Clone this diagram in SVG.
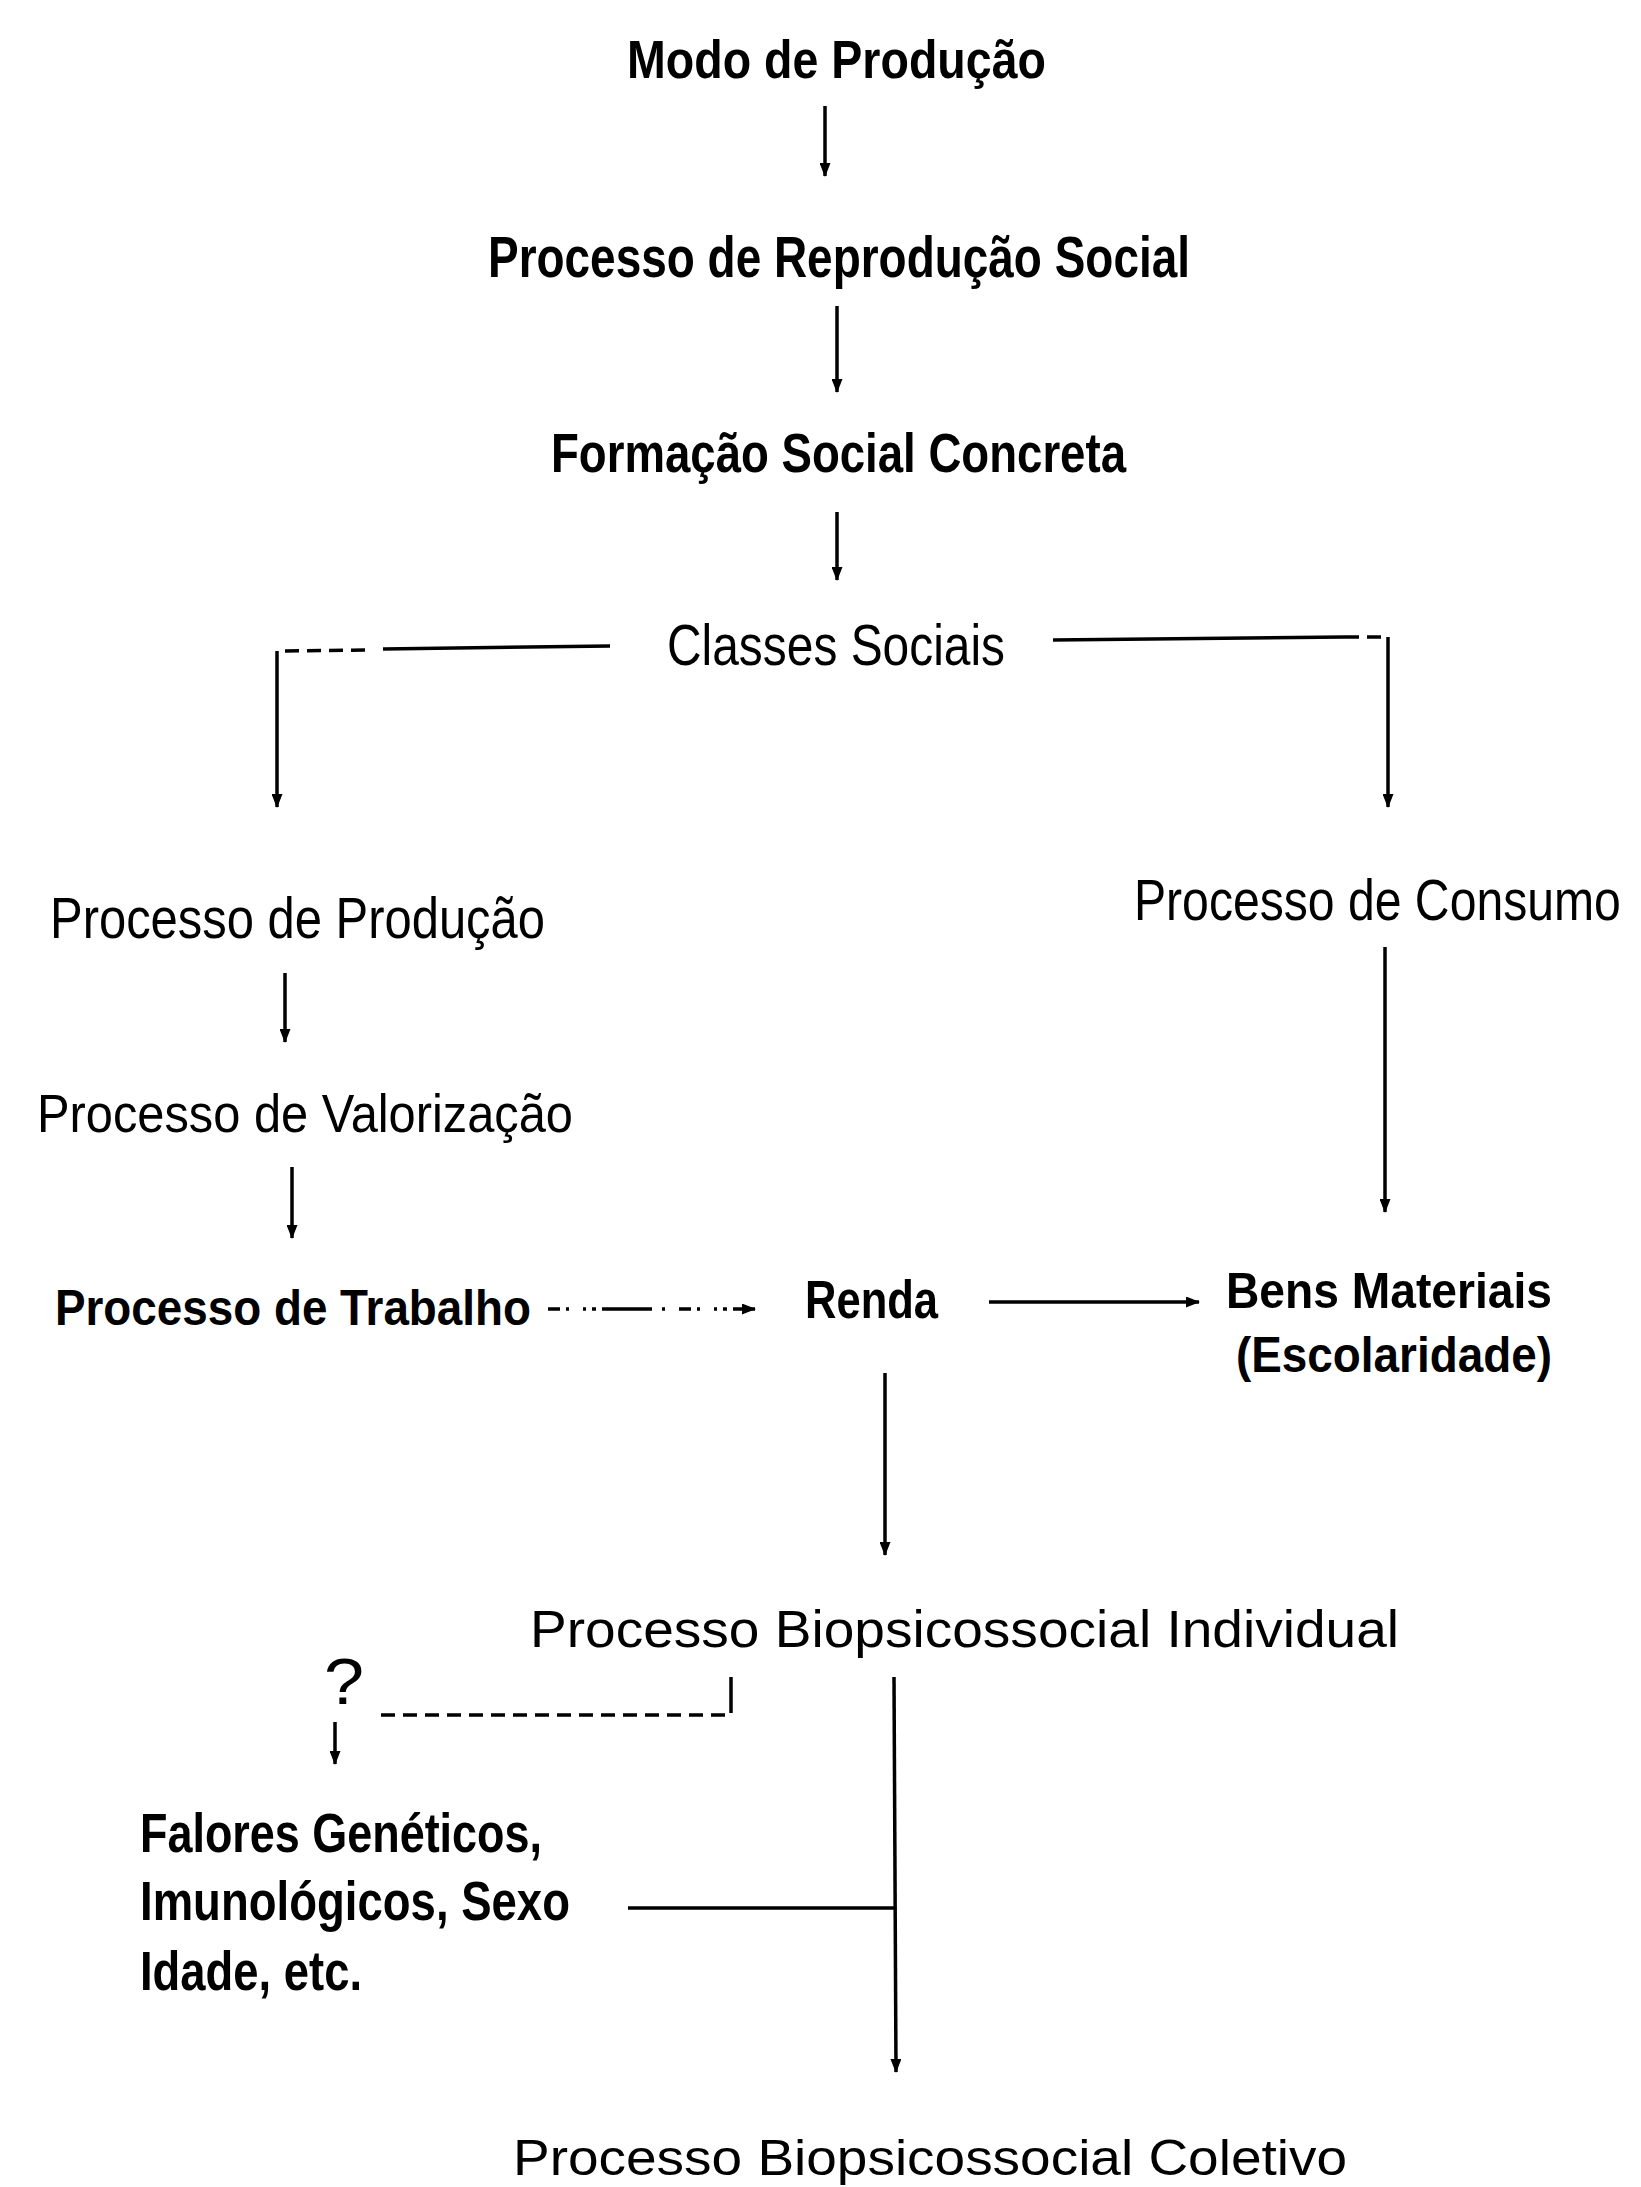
<svg xmlns="http://www.w3.org/2000/svg" width="1641" height="2187" viewBox="0 0 1641 2187">
<style>
text{font-family:"Liberation Sans",Arial,sans-serif;fill:#000;}
.b{font-weight:bold;}
.ln{stroke:#000;stroke-width:3.5;fill:none;}
.arr{stroke:#000;stroke-width:3.5;fill:none;marker-end:url(#ah);}
.dash{stroke-dasharray:14 8;}
.dots{stroke-dasharray:12 6 3 14 3 6 4 6 50 10 3 14;}
</style>
<defs>
<marker id="ah" viewBox="0 0 14 11" refX="13" refY="5.5" markerWidth="14" markerHeight="11" markerUnits="userSpaceOnUse" orient="auto">
<path d="M0,0 L14,5.5 L0,11 z" fill="#000"/>
</marker>
</defs>
<rect width="1641" height="2187" fill="#fff"/>

<g id="n-modo"><text class="b" x="627" y="78" font-size="53" textLength="419" lengthAdjust="spacingAndGlyphs">Modo de Produção</text></g>
<g id="n-reproducao"><text class="b" x="488" y="277" font-size="58" textLength="702" lengthAdjust="spacingAndGlyphs">Processo de Reprodução Social</text></g>
<g id="n-formacao"><text class="b" x="551" y="472" font-size="55" textLength="575" lengthAdjust="spacingAndGlyphs">Formação Social Concreta</text></g>
<g id="n-classes"><text x="667" y="665" font-size="57" textLength="338" lengthAdjust="spacingAndGlyphs">Classes Sociais</text></g>
<g id="n-producao"><text x="50" y="938" font-size="58" textLength="495" lengthAdjust="spacingAndGlyphs">Processo de Produção</text></g>
<g id="n-consumo"><text transform="translate(1134,920) scale(0.83,1)" x="0" y="0" font-size="58">Processo de Consumo</text></g>
<g id="n-valorizacao"><text x="37" y="1132" font-size="54" textLength="536" lengthAdjust="spacingAndGlyphs">Processo de Valorização</text></g>
<g id="n-trabalho"><text class="b" x="55" y="1325" font-size="50" textLength="476" lengthAdjust="spacingAndGlyphs">Processo de Trabalho</text></g>
<g id="n-renda"><text class="b" x="805" y="1318" font-size="53" textLength="133" lengthAdjust="spacingAndGlyphs">Renda</text></g>
<g id="n-bens">
<text class="b" x="1226" y="1308" font-size="50" textLength="326" lengthAdjust="spacingAndGlyphs">Bens Materiais</text>
<text class="b" x="1236" y="1372" font-size="50" textLength="316" lengthAdjust="spacingAndGlyphs">(Escolaridade)</text>
</g>
<g id="n-individual"><text x="530" y="1647" font-size="52" textLength="869" lengthAdjust="spacingAndGlyphs">Processo Biopsicossocial Individual</text></g>
<g id="n-interrogacao"><text x="324" y="1704" font-size="64" textLength="40" lengthAdjust="spacingAndGlyphs">?</text></g>
<g id="n-fatores">
<text class="b" x="140" y="1852" font-size="56" textLength="402" lengthAdjust="spacingAndGlyphs">Falores Genéticos,</text>
<text class="b" x="140" y="1920" font-size="56" textLength="430" lengthAdjust="spacingAndGlyphs">Imunológicos, Sexo</text>
<text class="b" x="140" y="1990" font-size="56" textLength="222" lengthAdjust="spacingAndGlyphs">Idade, etc.</text>
</g>
<g id="n-coletivo"><text x="513" y="2175" font-size="50" textLength="834" lengthAdjust="spacingAndGlyphs">Processo Biopsicossocial Coletivo</text></g>

<g id="connectors">
<line class="arr" x1="825" y1="106" x2="825" y2="176"/>
<line class="arr" x1="837" y1="306" x2="837" y2="392"/>
<line class="arr" x1="837" y1="512" x2="837" y2="580"/>
<polyline class="ln dash" points="365,650 277,651"/>
<line class="ln" x1="383" y1="649" x2="610" y2="646"/>
<polyline class="arr" points="277,651 277,807"/>
<line class="ln" x1="1053" y1="640" x2="1345" y2="637"/>
<line class="ln dash" x1="1345" y1="637" x2="1388" y2="637"/>
<polyline class="arr" points="1388,637 1388,807"/>
<line class="arr" x1="285" y1="973" x2="285" y2="1042"/>
<line class="arr" x1="292" y1="1167" x2="292" y2="1238"/>
<line class="arr" x1="1385" y1="947" x2="1385" y2="1212"/>
<line class="arr dots" x1="548" y1="1309" x2="755" y2="1309"/>
<line class="arr" x1="989" y1="1302" x2="1199" y2="1302"/>
<line class="arr" x1="885" y1="1373" x2="885" y2="1555"/>
<line class="ln" x1="731" y1="1677" x2="731" y2="1713"/>
<line class="ln dash" x1="725" y1="1715" x2="379" y2="1715"/>
<line class="arr" x1="335" y1="1722" x2="335" y2="1764"/>
<line class="arr" x1="894" y1="1677" x2="896" y2="2072"/>
<line class="ln" x1="628" y1="1908" x2="894" y2="1908"/>
</g>
</svg>
